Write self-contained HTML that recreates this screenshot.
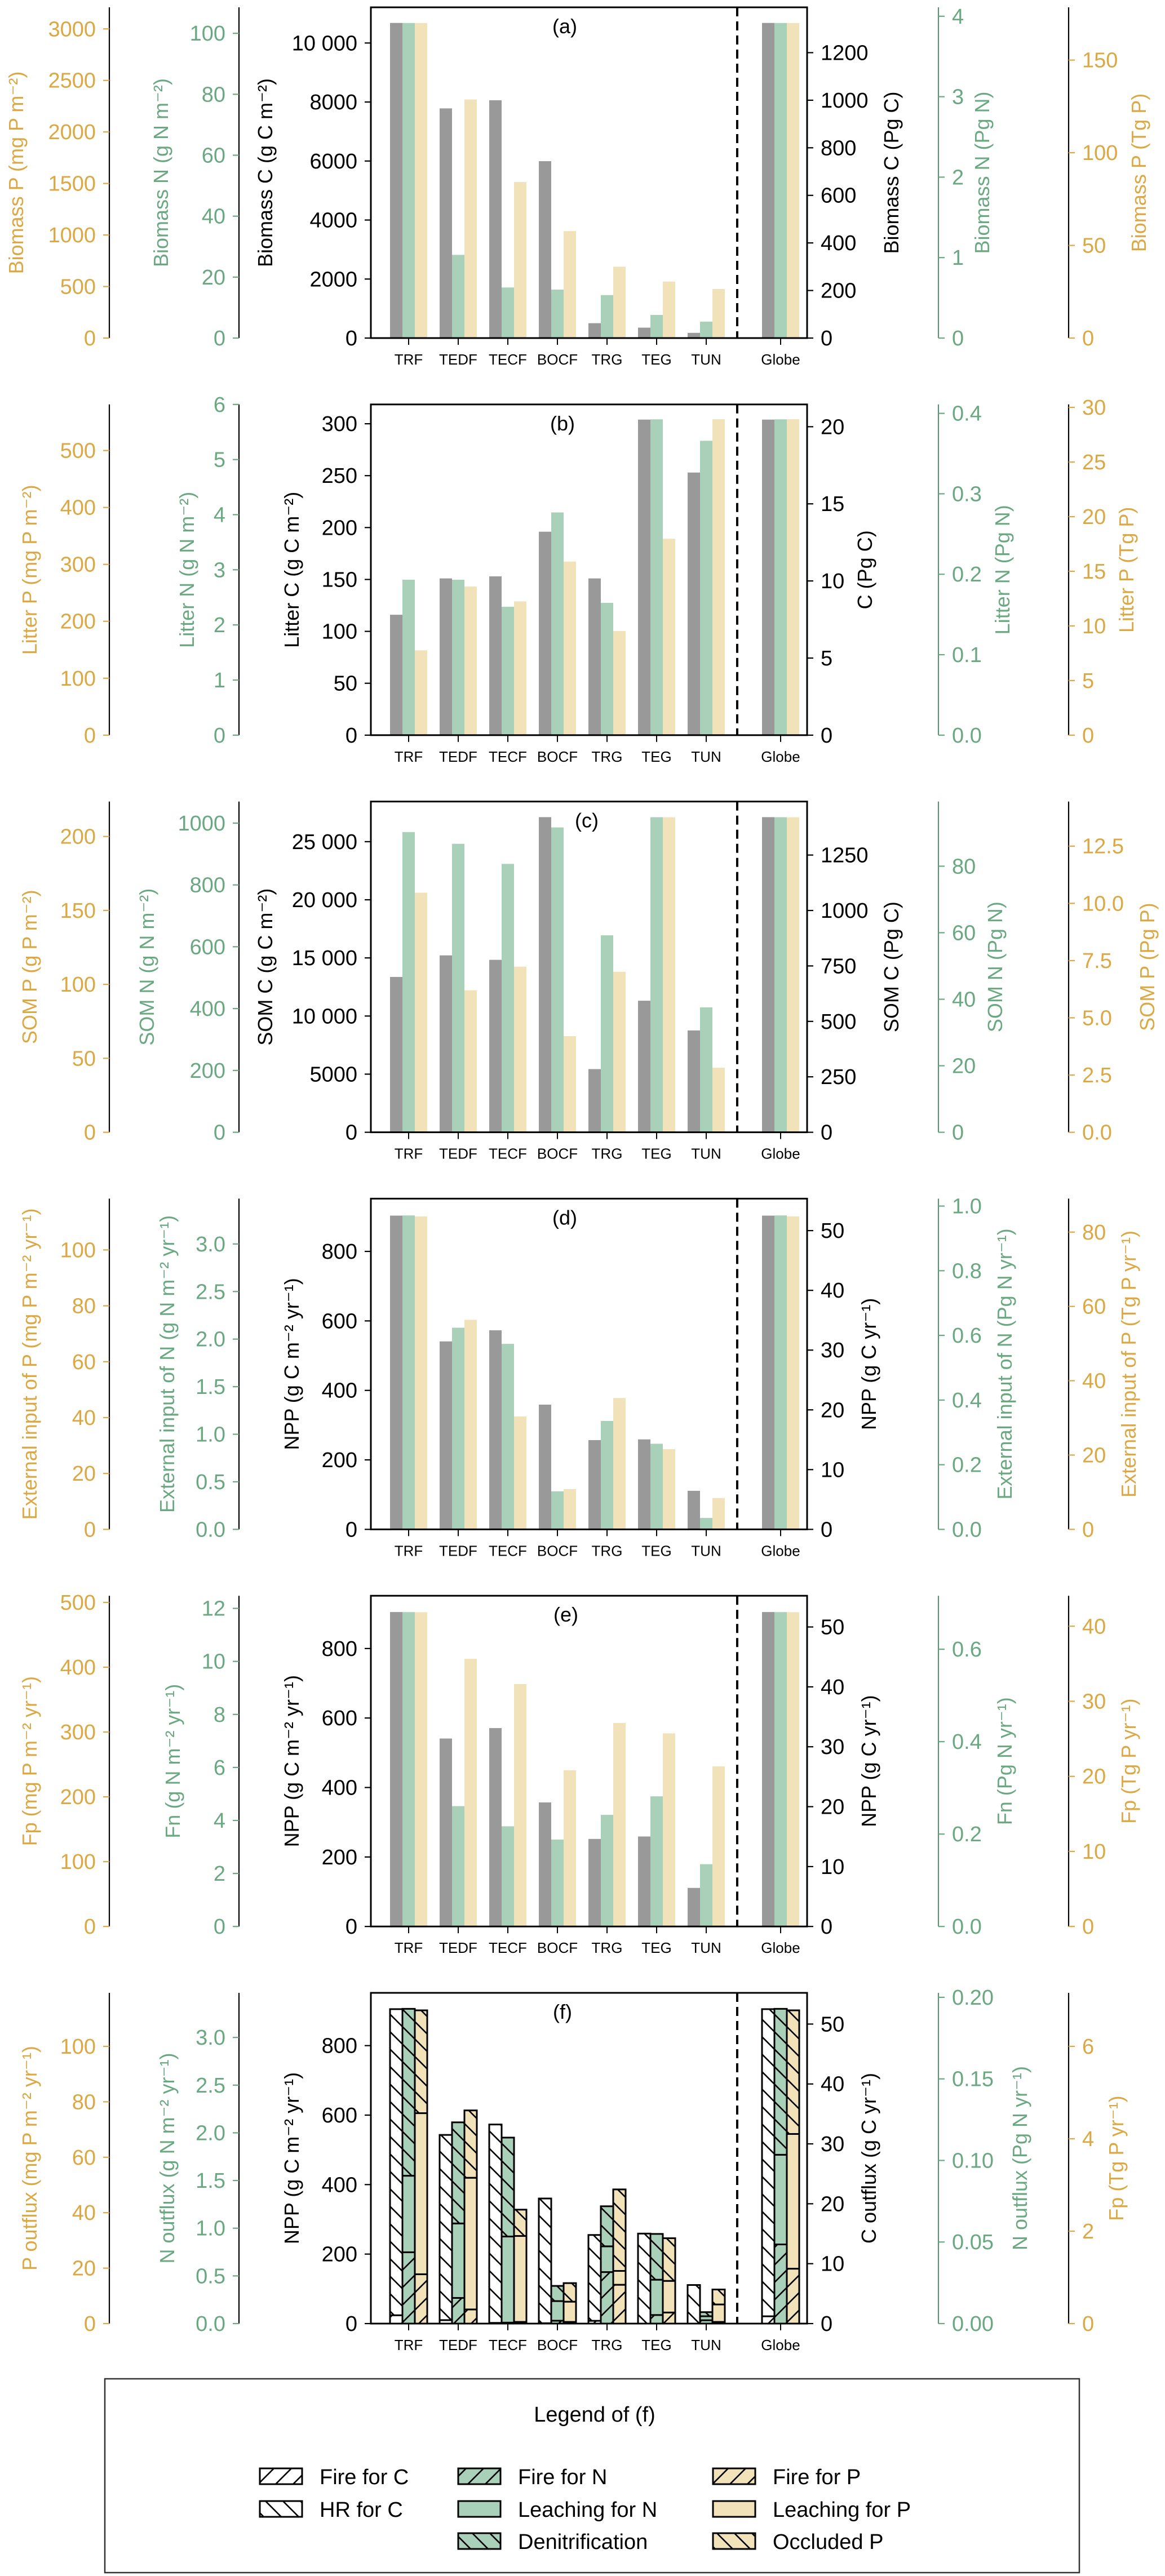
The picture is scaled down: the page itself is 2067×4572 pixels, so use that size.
<!DOCTYPE html>
<html><head><meta charset="utf-8"><style>
html,body{margin:0;padding:0;background:#fff;}
svg{display:block;font-family:"Liberation Sans","DejaVu Sans",sans-serif;}
</style></head><body>
<svg id="fig" xmlns="http://www.w3.org/2000/svg" width="2067" height="4572" viewBox="0 0 2067 4572">
<defs id="defs"></defs>
<g id="root"></g>
</svg>
<script>
// ---------- data ----------
const categories = ['TRF','TEDF','TECF','BOCF','TRG','TEG','TUN','Globe'];
// panel a
const biomassC = [10680,7784,8060,5995,504,353,176,10680];
const biomassN = [103.4,27.3,16.6,15.9,14.1,7.6,5.4,103.4];
const biomassP = [3057,2315,1514,1038,692,548,476,3057];
// panel b
const litterC = [116,151,153,196,151,304,253,304];
const litterN = [2.82,2.82,2.33,4.04,2.40,5.73,5.34,5.73];
const litterP = [149,261,235,305,183,345,555,555];
// panel c
const somC = [13363,15218,14834,27110,5435,11318,8760,27110];
const somN = [971,933,868,986,637,1019,404,1019];
const somP = [162,96,112,65,108.5,213,43.7,213];
// panel d
const nppD = [903,541,573,359,257,259,111,903];
const extN = [3.30,2.12,1.95,0.40,1.14,0.90,0.12,3.30];
const extP = [112,75,40.4,14.4,47,28.7,11.2,112];
// panel e
const nppE = [905,541,571,357,252,259,111,905];
const fnE = [11.86,4.54,3.78,3.28,4.21,4.91,2.35,11.86];
const fpE = [485,413,374,241,314,298,247,485];
// panel f (stacked: cumulative boundaries)
const fireC = [24,10,2,1,8,0,0,21];
const totalC = [905,543,573,360,255,259,111,905];
const fireN = [0.748,0.269,0.01,0.03,0.54,0.09,0.035,0.83];
const leachNTop = [1.55,1.05,0.913,0.236,0.81,0.46,0.077,1.77];
const totalN = [3.30,2.11,1.95,0.395,1.23,0.94,0.12,3.30];
const fireP = [17.8,5.1,0.6,0.6,14.0,4.0,0.6,19.8];
const leachPTop = [75.9,52.6,31.6,7.9,19.0,15.4,6.9,68.4];
const totalP = [113,76.9,41.1,14.6,48.4,30.8,12.3,113];

// tick labels
const ticksA = {cl:[0,2000,4000,6000,8000,10000], cll:['0','2000','4000','6000','8000','10 000'], nl:[0,20,40,60,80,100], pl:[0,500,1000,1500,2000,2500,3000], cr:[0,200,400,600,800,1000,1200], nr:[0,1,2,3,4], pr:[0,50,100,150]};
const ticksB = {cl:[0,50,100,150,200,250,300], nl:[0,1,2,3,4,5,6], pl:[0,100,200,300,400,500], cr:[0,5,10,15,20], nr:[0,0.1,0.2,0.3,0.4], nrl:['0.0','0.1','0.2','0.3','0.4'], pr:[0,5,10,15,20,25,30]};
const ticksC = {cl:[0,5000,10000,15000,20000,25000], cll:['0','5000','10 000','15 000','20 000','25 000'], nl:[0,200,400,600,800,1000], pl:[0,50,100,150,200], cr:[0,250,500,750,1000,1250], nr:[0,20,40,60,80], pr:[0,2.5,5,7.5,10,12.5], prl:['0.0','2.5','5.0','7.5','10.0','12.5']};
const ticksD = {cl:[0,200,400,600,800], nl:[0,0.5,1,1.5,2,2.5,3], nll:['0.0','0.5','1.0','1.5','2.0','2.5','3.0'], pl:[0,20,40,60,80,100], cr:[0,10,20,30,40,50], nr:[0,0.2,0.4,0.6,0.8,1.0], nrl:['0.0','0.2','0.4','0.6','0.8','1.0'], pr:[0,20,40,60,80]};
const ticksE = {cl:[0,200,400,600,800], nl:[0,2,4,6,8,10,12], pl:[0,100,200,300,400,500], cr:[0,10,20,30,40,50], nr:[0,0.2,0.4,0.6], nrl:['0.0','0.2','0.4','0.6'], pr:[0,10,20,30,40]};
const ticksF = {cl:[0,200,400,600,800], nl:[0,0.5,1,1.5,2,2.5,3], nll:['0.0','0.5','1.0','1.5','2.0','2.5','3.0'], pl:[0,20,40,60,80,100], cr:[0,10,20,30,40,50], nr:[0,0.05,0.1,0.15,0.2], nrl:['0.00','0.05','0.10','0.15','0.20'], pr:[0,2,4,6]};

// ---------- layout ----------
const NS='http://www.w3.org/2000/svg';
const root=document.getElementById('root');
const defs=document.getElementById('defs');
const PH=587, X0=658, X1=1432, XPL=194, XNL=424, XNR=1665, XPR=1896, DASHX=1308;
const colC='#999999', colN='#a9d1ba', colP='#f2e2b9';
const txtP='#dba843', txtN='#6aa882';
function el(tag,attrs,parent){const e=document.createElementNS(NS,tag);for(const k in attrs)e.setAttribute(k,attrs[k]);(parent||root).appendChild(e);return e;}
function xc(i){return 725+88*(i===7?7.5:i);}

// hatch patterns
function mkPat(id,fill,dir){
  const p=el('pattern',{id:id,patternUnits:'userSpaceOnUse',width:31,height:31},defs);
  el('rect',{x:0,y:0,width:31,height:31,fill:fill},p);
  if(dir==='f'){el('path',{d:'M-2,33 L33,-2 M-8,8 L8,-8 M23,39 L39,23',stroke:'#000','stroke-width':2.6},p);}
  else{el('path',{d:'M-2,-2 L33,33 M-8,23 L8,39 M23,-8 L39,8',stroke:'#000','stroke-width':2.6},p);}
}
mkPat('wF','#fff','f');mkPat('wB','#fff','b');mkPat('gF',colN,'f');mkPat('gB',colN,'b');mkPat('tF',colP,'f');mkPat('tB',colP,'b');

const panels=[
 {lab:'(a)',lx:1002,C:biomassC,N:biomassN,P:biomassP,t:ticksA,
  s:{cl:[10000,397],cr:[1200,384],nl:[100,410],pl:[3000,416],nr:[4,433],pr:[150,374]},
  names:['Biomass P (mg P m⁻²)','Biomass N (g N m⁻²)','Biomass C (g C m⁻²)','Biomass C (Pg C)','Biomass N (Pg N)','Biomass P (Tg P)'],
  lxs:[29,286,471,1582,1743,2021]},
 {lab:'(b)',lx:998,C:litterC,N:litterN,P:litterP,t:ticksB,
  s:{cl:[300,419],cr:[20,415],nl:[6,445],pl:[500,383],nr:[0.4,433],pr:[30,441]},
  names:['Litter P (mg P m⁻²)','Litter N (g N m⁻²)','Litter C (g C m⁻²)','C (Pg C)','Litter N (Pg N)','Litter P (Tg P)'],
  lxs:[53,332,518,1535,1779,1999]},
 {lab:'(c)',lx:1041,C:somC,N:somN,P:somP,t:ticksC,
  s:{cl:[25000,391],cr:[1250,373],nl:[1000,416],pl:[200,398],nr:[80,358],pr:[12.5,385]},
  names:['SOM P (g P m⁻²)','SOM N (g N m⁻²)','SOM C (g C m⁻²)','SOM C (Pg C)','SOM N (Pg N)','SOM P (Pg P)'],
  lxs:[53,261,471,1582,1766,2036]},
 {lab:'(d)',lx:1002,C:nppD,N:extN,P:extP,t:ticksD,
  s:{cl:[800,374],cr:[50,402],nl:[3,384],pl:[100,376],nr:[1,435],pr:[80,400]},
  names:['External input of P (mg P m⁻² yr⁻¹)','External input of N (g N m⁻² yr⁻¹)','NPP (g C m⁻² yr⁻¹)','NPP (g C yr⁻¹)','External input of N (Pg N yr⁻¹)','External input of P (Tg P yr⁻¹)'],
  lxs:[53,297,518,1542,1783,2003]},
 {lab:'(e)',lx:1004,C:nppE,N:fnE,P:fpE,t:ticksE,
  s:{cl:[800,374],cr:[50,403],nl:[12,428],pl:[500,436],nr:[0.6,373],pr:[40,404]},
  names:['Fp (mg P m⁻² yr⁻¹)','Fn (g N m⁻² yr⁻¹)','NPP (g C m⁻² yr⁻¹)','NPP (g C yr⁻¹)','Fn (Pg N yr⁻¹)','Fp (Tg P yr⁻¹)'],
  lxs:[53,307,518,1542,1783,2003]},
 {lab:'(f)',lx:998,stack:true,t:ticksF,
  s:{cl:[800,374],cr:[50,403],nl:[3,385],pl:[100,373],nr:[0.2,439],pr:[6,373]},
  names:['P outflux (mg P m⁻² yr⁻¹)','N outflux (g N m⁻² yr⁻¹)','NPP (g C m⁻² yr⁻¹)','C outflux (g C yr⁻¹)','N outflux (Pg N yr⁻¹)','Fp (Tg P yr⁻¹)'],
  lxs:[53,297,518,1542,1810,1981]}
];
const pnames=['biomass','litter','som','external-input','fixation','outflux'];

panels.forEach((pn,k)=>{
  const top=13+k*704.8, bot=top+PH;
  const g=el('g',{});
  
  
  const sc={};
  for(const key in pn.s){const v=pn.s[key][0],d=pn.s[key][1];const pp=d/445*PH/v;sc[key]=(val)=>bot-val*pp;}
  // bars
  const bw=22;
  if(!pn.stack){
    [[pn.C,sc.cl,colC,'c'],[pn.N,sc.nl,colN,'n'],[pn.P,sc.pl,colP,'p']].forEach((ser,si)=>{
      ser[0].forEach((v,i)=>{
        const y=Math.max(ser[1](v),top+2);
        const r=el('rect',{x:xc(i)-33+si*22,y:y,width:bw,height:bot-y,fill:ser[2]},g);
        
        
      });
    });
  } else {
    const groups=[
      [[fireC,totalC],sc.cl,['wF','wB'],'c',['fire-c','hr-c']],
      [[fireN,leachNTop,totalN],sc.nl,['gF',colN,'gB'],'n',['fire-n','leaching-n','denitrification']],
      [[fireP,leachPTop,totalP],sc.pl,['tF',colP,'tB'],'p',['fire-p','leaching-p','occluded-p']]
    ];
    groups.forEach((gr,si)=>{
      categories.forEach((c,i)=>{
        let prev=0;
        gr[0].forEach((arr,j)=>{
          const v=arr[i];const y0=gr[1](prev),y1=gr[1](v);
          const f=gr[2][j].startsWith('#')?gr[2][j]:'url(#'+gr[2][j]+')';
          const r=el('rect',{x:xc(i)-33+si*22,y:y1,width:bw,height:Math.max(y0-y1,0),fill:f,stroke:'#000','stroke-width':3},g);
          
          
          prev=v;
        });
      });
    });
  }
  // frame
  const fr=el('rect',{x:X0,y:top,width:X1-X0,height:PH,fill:'none',stroke:'#000','stroke-width':3},g);
  
  
  const dl=el('line',{x1:DASHX,x2:DASHX,y1:top,y2:bot,stroke:'#000','stroke-width':4,'stroke-dasharray':'16 9'},g);
  
  
  const pl=el('text',{x:pn.lx,y:top+46,'font-size':36,'text-anchor':'middle',fill:'#000'},g);
  pl.textContent=pn.lab;
  
  
  // x ticks
  categories.forEach((c,i)=>{
    el('line',{x1:xc(i),x2:xc(i),y1:bot,y2:bot+12,stroke:'#000','stroke-width':2},g);
    const t=el('text',{x:xc(i),y:bot+47,'font-size':26,'text-anchor':'middle',fill:'#000'},g);
    t.textContent=c;
    
    
  });
  // axes
  const axes=[
    ['pl',XPL,-1,txtP,'#000',pn.t.pl,pn.t.pll,0],
    ['nl',XNL,-1,txtN,'#000',pn.t.nl,pn.t.nll,1],
    ['cl',X0,-1,'#000',null,pn.t.cl,pn.t.cll,2],
    ['cr',X1,1,'#000',null,pn.t.cr,pn.t.crl,3],
    ['nr',XNR,1,txtN,'#5f8f75',pn.t.nr,pn.t.nrl,4],
    ['pr',XPR,1,txtP,'#000',pn.t.pr,pn.t.prl,5]
  ];
  axes.forEach(a=>{
    const ag=el('g',{},g);
    
    
    if(a[4]) el('line',{x1:a[1],x2:a[1],y1:top,y2:bot,stroke:a[4],'stroke-width':2.2},ag);
    a[5].forEach((v,i)=>{
      const y=sc[a[0]](v);
      el('line',{x1:a[1],x2:a[1]+a[2]*11,y1:y,y2:y,stroke:a[3]==='#000'?'#000':a[3],'stroke-width':2.2},ag);
      const t=el('text',{x:a[1]+a[2]*24,y:y+13,'font-size':38,'text-anchor':a[2]<0?'end':'start',fill:a[3]},ag);
      t.textContent=a[6]?a[6][i]:String(v);
      
      
    });
    const lx=pn.lxs[a[7]], ly=(top+bot)/2;
    const t=el('text',{x:lx,y:ly,'font-size':36,'text-anchor':'middle',fill:a[3],transform:'rotate(-90 '+lx+' '+ly+')',dy:12},ag);
    t.textContent=pn.names[a[7]];
    
    
  });
});

// ---------- legend ----------
const lg=el('g',{});


el('rect',{x:186,y:4222,width:1729,height:344,fill:'#fff',stroke:'#333','stroke-width':2.5},lg);
const lt=el('text',{x:1055,y:4298,'font-size':38,'text-anchor':'middle',fill:'#000'},lg);
lt.textContent='Legend of (f)';


const legendLabels=[['Fire for C','HR for C'],['Fire for N','Leaching for N','Denitrification'],['Fire for P','Leaching for P','Occluded P']];
const legendFills=[['wF','wB'],['gF',colN,'gB'],['tF',colP,'tB']];
const colX=[461,813,1265], rowY=[4381,4439,4496];
legendLabels.forEach((col,ci)=>{
  col.forEach((lab,ri)=>{
    const e=el('g',{},lg);
    
    
    const f=legendFills[ci][ri];
    el('rect',{x:colX[ci],y:rowY[ri],width:75,height:28,fill:f.startsWith('#')?f:'url(#'+f+')',stroke:'#000','stroke-width':3},e);
    const t=el('text',{x:colX[ci]+106,y:rowY[ri]+28,'font-size':38,fill:'#000'},e);
    t.textContent=lab;
  });
});
</script>
</body></html>
